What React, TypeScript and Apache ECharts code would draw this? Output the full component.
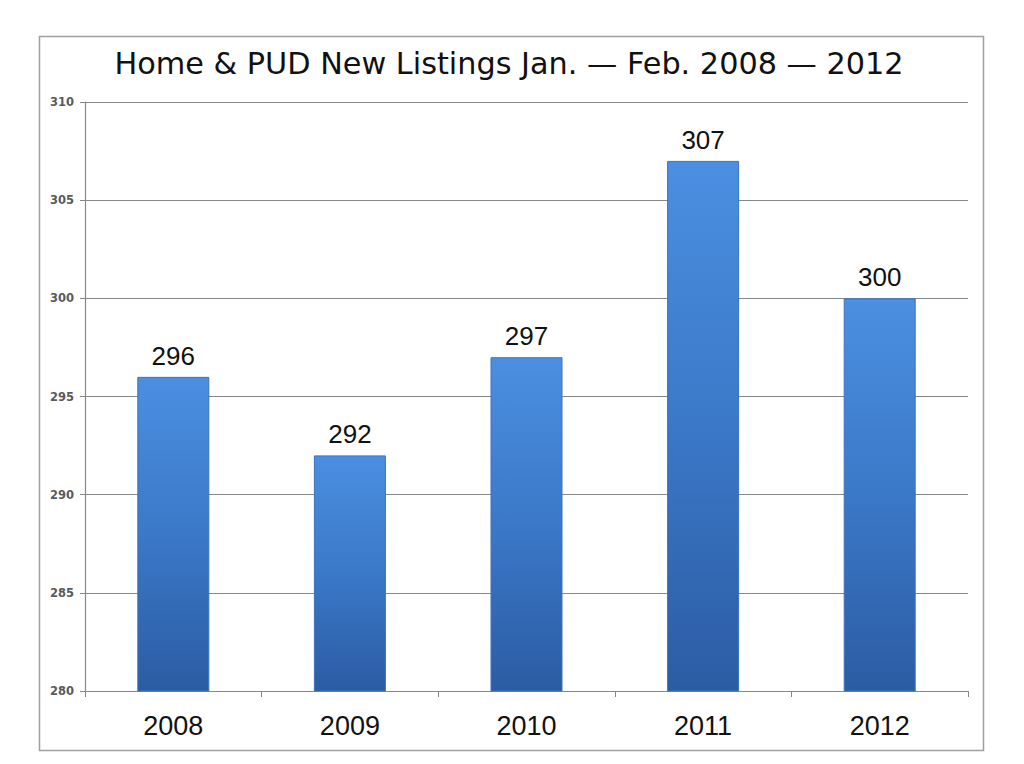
import React, { useEffect, useRef } from "react";
import * as echarts from "echarts";

const categories = ["2008", "2009", "2010", "2011", "2012"];
const values = [296, 292, 297, 307, 300];
const titleText = "Home & PUD New Listings Jan. — Feb. 2008 — 2012";

export default function App() {
  const ref = useRef<HTMLDivElement>(null);
  useEffect(() => {
    const chart = echarts.init(ref.current!, null, { renderer: "svg" });
    chart.setOption({
      animation: false,
      backgroundColor: "#ffffff",
      title: {
        text: titleText,
        left: 504,
        textAlign: "center",
        top: 43,
        textStyle: { fontFamily: "DejaVu Sans", fontSize: 30.3, fontWeight: "normal", color: "#111" },
      },
      graphic: [
        {
          type: "rect",
          shape: { x: 39.5, y: 36.5, width: 944, height: 714 },
          style: { fill: "none", stroke: "#a0a0a0", lineWidth: 1.5 },
          silent: true,
        },
      ],
      grid: { left: 85, right: 56, top: 102, bottom: 73 },
      xAxis: {
        type: "category",
        data: categories,
        axisLine: { lineStyle: { color: "#888", width: 1.2 } },
        axisTick: { show: true, length: 6, inside: false, lineStyle: { color: "#888" } },
        axisLabel: { fontFamily: "Liberation Sans", fontSize: 27, color: "#111", margin: 21 },
      },
      yAxis: {
        type: "value",
        min: 280,
        max: 310,
        interval: 5,
        axisLine: { show: true, lineStyle: { color: "#888", width: 1.2 } },
        axisTick: { show: true, length: 5, lineStyle: { color: "#888" } },
        axisLabel: { fontFamily: "DejaVu Sans", fontSize: 11.5, fontWeight: "bold", color: "#5a5a5a", margin: 11 },
        splitLine: { lineStyle: { color: "#888", width: 1 } },
      },
      series: [
        {
          type: "bar",
          data: values,
          barWidth: 72,
          itemStyle: {
            color: new echarts.graphic.LinearGradient(0, 0, 0, 1, [
              { offset: 0, color: "#4b8fe0" },
              { offset: 0.5, color: "#3b78c8" },
              { offset: 1, color: "#2b5ca3" },
            ]),
            borderColor: "#3a72bf",
            borderWidth: 1,
          },
          label: {
            show: true,
            position: "top",
            distance: 8,
            fontFamily: "Liberation Sans",
            fontSize: 26,
            color: "#111",
          },
        },
      ],
    });
    return () => chart.dispose();
  }, []);
  return <div ref={ref} style={{ position: "absolute", left: 0, top: 0, width: 1024, height: 764 }} />;
}
